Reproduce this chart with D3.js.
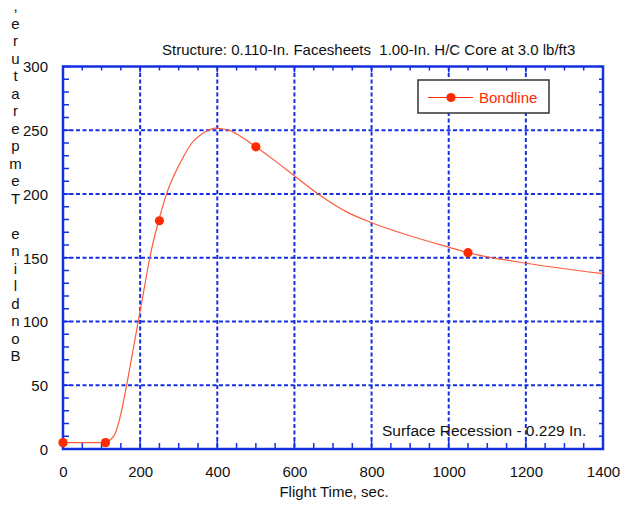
<!DOCTYPE html>
<html>
<head>
<meta charset="utf-8">
<script src="https://cdn.jsdelivr.net/npm/d3@7"></script>
<style>
  html, body { margin: 0; padding: 0; background: #fff; }
  svg { display: block; }
  text { font-family: "Liberation Sans", Arial, sans-serif; }
</style>
</head>
<body>
<svg id="chart" width="623" height="506"></svg>
<script>
// Bondline temperature history (curve samples, sec / °F)
const curveTime = [0, 110, 122, 135, 148, 165, 180, 195, 210, 225, 248, 269, 290, 312, 334, 355, 377, 395, 415, 433, 467, 500, 554, 601, 666, 735, 800, 891, 1003, 1050, 1205, 1400];
const curveTemp = [5, 5, 7, 12, 25, 50, 75, 100, 125, 150, 179, 200.5, 216, 229, 240, 246, 250, 251.6, 251, 249.7, 244, 237, 225, 214, 199, 186, 177.5, 168, 158, 154, 145.5, 137.5];

// Plotted marker points
const markerTime = [0, 110, 250, 500, 1050];
const markerTemp = [5, 5, 179, 237, 154];

// Axis ticks
const xTicks = [0, 200, 400, 600, 800, 1000, 1200, 1400];
const yTicks = [0, 50, 100, 150, 200, 250, 300];

const seriesName = "Bondline";
const titleText = "Structure: 0.110-In. Facesheets  1.00-In. H/C Core at 3.0 lb/ft3";
const noteText = "Surface Recession - 0.229 In.";
const xTitle = "Flight Time, sec.";
const yTitle = "Bondline Temperature,";

const blue = "#1530e0";
const red = "#ff2a00";

const svg = d3.select("#chart");
const plotL = 63, plotR = 603, plotT = 66.5, plotB = 449;

const x = d3.scaleLinear().domain([0, 1400]).range([plotL, plotR]);
const y = d3.scaleLinear().domain([0, 300]).range([plotB, plotT]);

// Grid lines at the major ticks
const grid = svg.append("g");
grid.selectAll("line.vx").data(xTicks.slice(1, -1)).join("line")
  .attr("x1", d => x(d)).attr("x2", d => x(d))
  .attr("y1", plotT).attr("y2", plotB)
  .attr("stroke", blue).attr("stroke-width", 2).attr("stroke-dasharray", "4,2.5");
grid.selectAll("line.hy").data(yTicks.slice(1, -1)).join("line")
  .attr("x1", plotL).attr("x2", plotR)
  .attr("y1", d => y(d)).attr("y2", d => y(d))
  .attr("stroke", blue).attr("stroke-width", 2).attr("stroke-dasharray", "4,2.5");

// Inward ticks on all four sides
const minorX = d3.range(0, 1401, 50);
const minorY = d3.range(0, 301, 10);
const tickG = svg.append("g").attr("stroke", blue).attr("stroke-width", 1.5);
const lenX = d => (d % 200 === 0 ? 8 : 6);
const lenY = d => (d % 50 === 0 ? 8 : 6);
tickG.selectAll("line.bx").data(minorX).join("line")
  .attr("x1", d => x(d)).attr("x2", d => x(d))
  .attr("y1", plotB).attr("y2", d => plotB - lenX(d));
tickG.selectAll("line.tx").data(minorX).join("line")
  .attr("x1", d => x(d)).attr("x2", d => x(d))
  .attr("y1", plotT).attr("y2", d => plotT + lenX(d) - 2);
tickG.selectAll("line.ly").data(minorY).join("line")
  .attr("x1", plotL).attr("x2", d => plotL + lenY(d))
  .attr("y1", d => y(d)).attr("y2", d => y(d));
tickG.selectAll("line.ry").data(minorY).join("line")
  .attr("x1", plotR).attr("x2", d => plotR - lenY(d) + 2)
  .attr("y1", d => y(d)).attr("y2", d => y(d));

// Plot frame
svg.append("rect")
  .attr("x", plotL).attr("y", plotT)
  .attr("width", plotR - plotL).attr("height", plotB - plotT)
  .attr("fill", "none").attr("stroke", blue).attr("stroke-width", 2.5);

// Tick labels
const xAxis = d3.axisBottom(x).tickValues(xTicks).tickSize(0).tickPadding(0).tickFormat(d3.format("d"));
const gx = svg.append("g").attr("transform", `translate(0,${plotB})`).call(xAxis);
gx.select(".domain").remove();
gx.selectAll("text").attr("dy", null).attr("y", 28)
  .attr("font-size", 15).attr("fill", "#111")
  .style("font-family", '"Liberation Sans", Arial, sans-serif');

const yAxis = d3.axisLeft(y).tickValues(yTicks).tickSize(0).tickPadding(0).tickFormat(d3.format("d"));
const gy = svg.append("g").attr("transform", `translate(${plotL},0)`).call(yAxis);
gy.select(".domain").remove();
gy.selectAll("text").attr("x", -15).attr("dy", "0.35em")
  .attr("font-size", 15).attr("fill", "#111")
  .style("font-family", '"Liberation Sans", Arial, sans-serif');

// Temperature curve
const pts = curveTime.map((t, i) => [t, curveTemp[i]]);
const line = d3.line().x(d => x(d[0])).y(d => y(d[1])).curve(d3.curveMonotoneX);
svg.append("path").datum(pts)
  .attr("d", line)
  .attr("fill", "none").attr("stroke", "#ff5a3c").attr("stroke-width", 1.2);

// Markers
svg.append("g").selectAll("circle")
  .data(markerTime.map((t, i) => [t, markerTemp[i]]))
  .join("circle")
  .attr("cx", d => x(d[0])).attr("cy", d => y(d[1])).attr("r", 4.6)
  .attr("fill", red);

// Legend
const lg = svg.append("g");
lg.append("rect").attr("x", 418).attr("y", 80).attr("width", 131).attr("height", 33)
  .attr("fill", "#fff").attr("stroke", "#333").attr("stroke-width", 1.5);
lg.append("line").attr("x1", 428).attr("x2", 473).attr("y1", 97.5).attr("y2", 97.5)
  .attr("stroke", red).attr("stroke-width", 1.2);
lg.append("circle").attr("cx", 451).attr("cy", 97.5).attr("r", 4.6).attr("fill", red);
lg.append("text").attr("x", 479).attr("y", 103).attr("font-size", 15)
  .attr("fill", red).text(seriesName);

// Header and annotation
svg.append("text").attr("x", 162).attr("y", 55).attr("font-size", 15)
  .attr("fill", "#111").style("white-space", "pre").attr("xml:space", "preserve").text(titleText);
svg.append("text").attr("x", 382).attr("y", 436).attr("font-size", 15.5)
  .attr("fill", "#111").text(noteText);

// Axis titles
svg.append("text").attr("x", 334).attr("y", 497).attr("text-anchor", "middle")
  .attr("font-size", 15).attr("fill", "#111").text(xTitle);

// Y title: characters stacked upright, read from bottom to top
const chars = Array.from(yTitle).reverse();
svg.append("g").selectAll("text").data(chars).join("text")
  .attr("x", 15.5).attr("y", (d, i) => 11 + i * 17.5)
  .attr("text-anchor", "middle").attr("font-size", 15).attr("fill", "#111")
  .text(d => d);
</script>
</body>
</html>
